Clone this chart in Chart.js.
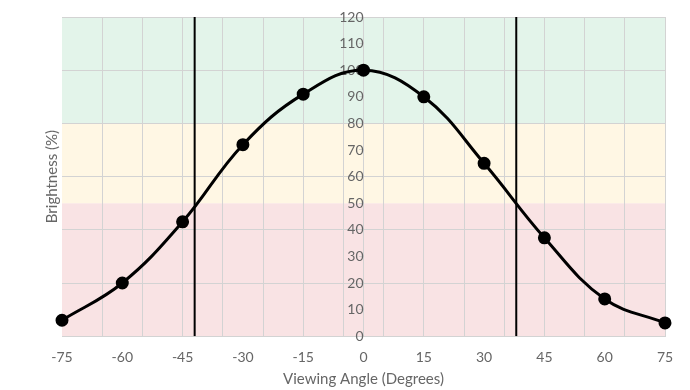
<!DOCTYPE html>
<html>
<head>
<meta charset="utf-8">
<script src="https://cdn.jsdelivr.net/npm/chart.js@4/dist/chart.umd.min.js"></script>
<style>
  html, body { margin: 0; padding: 0; background: #fff; }
  #wrap { width: 690px; height: 390px; }
</style>
</head>
<body>
<div id="wrap"><canvas id="myChart"></canvas></div>
<script>
// viewing angle measurements
var angles = [-75, -60, -45, -30, -15, 0, 15, 30, 45, 60, 75];
var brightness = [6, 20, 43, 72, 91, 100, 90, 65, 37, 14, 5];
// vertical cut-off markers (degrees)
var cutoffAngles = [-42, 38];
// background bands: limits and colours (bottom to top)
var bandLimits = [0, 50, 80, 120];
var bandColors = ['#f9e3e4', '#fff7e4', '#e3f4ea'];

var gridGray = '#d3d3d3';
var textGray = '#666666';

var curve = angles.map(function (a, i) { return { x: a, y: brightness[i] }; });

var datasets = [{
    label: 'Brightness',
    data: curve,
    showLine: true,
    borderColor: '#000',
    backgroundColor: '#000',
    borderWidth: 3,
    tension: 0.4,
    pointRadius: 5,
    pointHoverRadius: 5,
    clip: false
}];
cutoffAngles.forEach(function (a) {
    datasets.push({
        label: 'cutoff ' + a,
        data: [{ x: a, y: 0 }, { x: a, y: 120 }],
        showLine: true,
        borderColor: '#000',
        borderWidth: 2,
        pointRadius: 0
    });
});

// shaded bands + axis titles
var bandsPlugin = {
    id: 'bands',
    beforeDraw: function (chart) {
        var c = chart.ctx, area = chart.chartArea, y = chart.scales.y;
        c.save();
        for (var i = 0; i < bandColors.length; i++) {
            var top = y.getPixelForValue(bandLimits[i + 1]);
            var bot = y.getPixelForValue(bandLimits[i]);
            c.fillStyle = bandColors[i];
            c.fillRect(area.left, top, area.right - area.left, bot - top);
        }
        c.restore();
    },
    afterDraw: function (chart) {
        var c = chart.ctx, area = chart.chartArea;
        c.save();
        c.font = '15px Lato';
        c.fillStyle = textGray;
        c.textAlign = 'center';
        c.textBaseline = 'middle';
        c.fillText('Viewing Angle (Degrees)', (area.left + area.right) / 2, chart.height - 11);
        c.translate(area.left - 10, (area.top + area.bottom) / 2);
        c.rotate(-Math.PI / 2);
        c.fillText('Brightness (%)', 0, 0);
        c.restore();
    }
};

var ctx = document.getElementById('myChart').getContext('2d');
var myChart = new Chart(ctx, {
    type: 'scatter',
    data: { datasets: datasets },
    plugins: [bandsPlugin],
    options: {
        responsive: true,
        maintainAspectRatio: false,
        animation: false,
        layout: { padding: { left: 62, right: 25, top: 17, bottom: 11 } },
        scales: {
            x: {
                type: 'linear',
                min: -75,
                max: 75,
                ticks: {
                    stepSize: 5,
                    autoSkip: false,
                    maxRotation: 0,
                    padding: 13,
                    color: textGray,
                    font: { family: 'Lato', size: 14 },
                    callback: function (v) { return v % 15 === 0 ? String(v) : ''; }
                },
                grid: {
                    drawTicks: false,
                    color: function (c) {
                        var v = c.tick ? c.tick.value : null;
                        return (v !== null && v !== -75 && (v + 75) % 10 === 0) ? gridGray : 'rgba(0,0,0,0)';
                    }
                },
                border: { color: gridGray }
            },
            y: {
                position: { x: 0 },
                min: 0,
                max: 120,
                ticks: {
                    stepSize: 10,
                    padding: 4,
                    color: textGray,
                    font: { family: 'Lato', size: 14 }
                },
                grid: {
                    tickLength: 4,
                    tickColor: gridGray,
                    color: function (c) {
                        var v = c.tick ? c.tick.value : null;
                        return (v !== null && v % 20 === 0) ? gridGray : 'rgba(0,0,0,0)';
                    }
                },
                border: { color: gridGray }
            }
        },
        plugins: {
            legend: { display: false },
            tooltip: { enabled: false }
        }
    }
});
</script>
</body>
</html>
